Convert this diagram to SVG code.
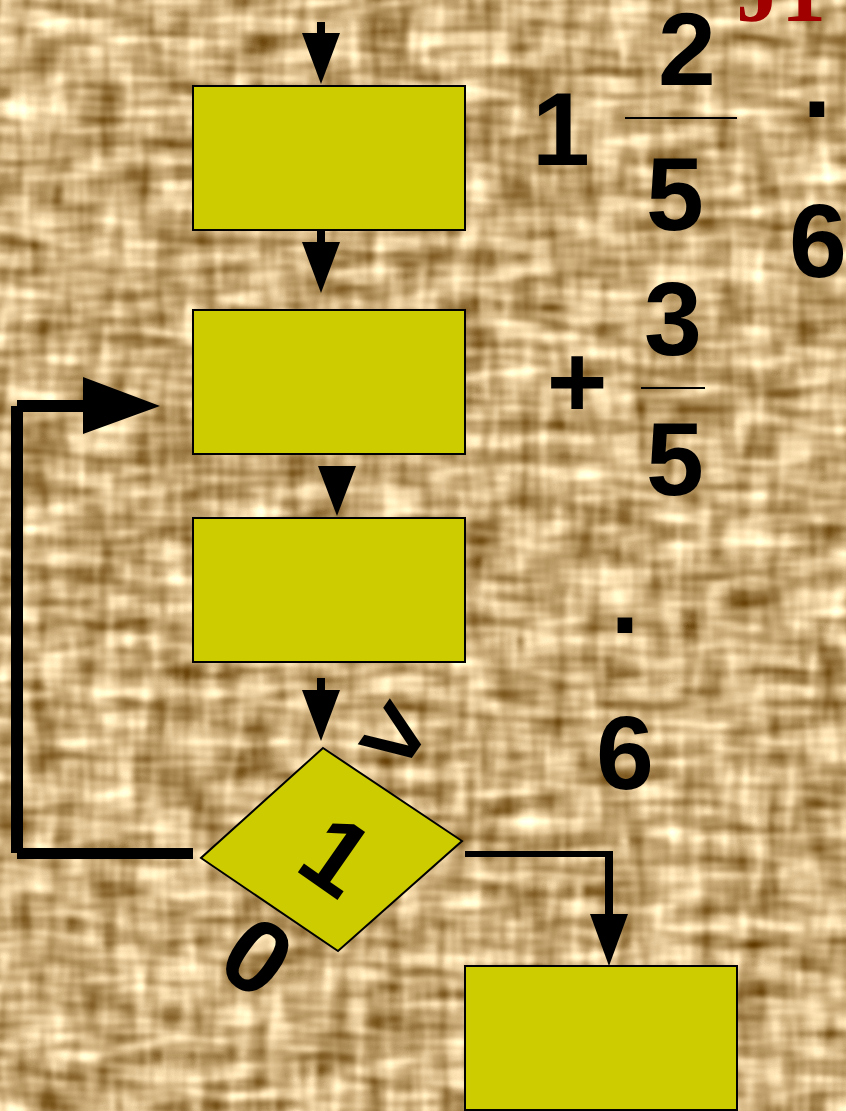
<svg xmlns="http://www.w3.org/2000/svg" width="846" height="1111" viewBox="0 0 846 1111">
<defs>
<filter id="burlap" x="0" y="0" width="846" height="1111" filterUnits="userSpaceOnUse" color-interpolation-filters="sRGB">
<feTurbulence type="fractalNoise" baseFrequency="0.014 0.06" numOctaves="2" seed="3" result="h"/>
<feTurbulence type="fractalNoise" baseFrequency="0.06 0.014" numOctaves="2" seed="11" result="v"/>
<feComposite in="h" in2="v" operator="arithmetic" k1="0" k2="0.6" k3="0.4" k4="0" result="m"/>
<feColorMatrix in="m" type="matrix" values="1.3 0 0 0 0.15  1.4 0 0 0 -0.02  1.5 0 0 0 -0.27  0 0 0 0 1"/>
</filter>
<style>
.box{fill:#cccc00;stroke:#000;stroke-width:2}
.num{font-family:"Liberation Sans",Arial,sans-serif;font-weight:bold;font-size:104px;fill:#000;text-anchor:middle}
.ln{stroke:#000;fill:none;stroke-linecap:butt}
.head{fill:#000}
</style>
</defs>
<rect width="846" height="1111" fill="#c9a878"/>
<rect width="846" height="1111" filter="url(#burlap)"/>

<g id="connectors">
<line class="ln" x1="321" y1="22" x2="321" y2="34" stroke-width="8"/>
<polygon class="head" points="302,33 340,33 321,84"/>
<line class="ln" x1="321" y1="230" x2="321" y2="243" stroke-width="8"/>
<polygon class="head" points="302,242 340,242 321,293"/>
<polygon class="head" points="318,466 356,466 337,516"/>
<line class="ln" x1="321" y1="678" x2="321" y2="691" stroke-width="8"/>
<polygon class="head" points="302,690 340,690 321,741"/>
<line class="ln" x1="465" y1="854" x2="613" y2="854" stroke-width="6"/>
<line class="ln" x1="609" y1="854" x2="609" y2="915" stroke-width="8"/>
<polygon class="head" points="590,914 628,914 609,966"/>
<line class="ln" x1="193" y1="853.5" x2="17" y2="853.5" stroke-width="11"/>
<line class="ln" x1="17" y1="853" x2="17" y2="406" stroke-width="12"/>
<line class="ln" x1="17" y1="406" x2="85" y2="406" stroke-width="12"/>
<polygon class="head" points="83,377 83,434 160,406"/>
</g>

<g id="box1"><rect class="box" x="193" y="86" width="272" height="144"/></g>
<g id="box2"><rect class="box" x="193" y="310" width="272" height="144"/></g>
<g id="box3"><rect class="box" x="193" y="518" width="272" height="144"/></g>
<g id="decision">
<polygon class="box" points="323,748 462,841 338,951 201,858"/>
<text class="num" transform="translate(335,853) rotate(35)" x="3" y="37">1</text>
</g>
<g id="box4"><rect class="box" x="465" y="966" width="272" height="144"/></g>

<g id="labels">
<text class="num" transform="translate(396,735) rotate(35)" x="0" y="36">&gt;</text>
<text class="num" transform="translate(258,956) rotate(35)" x="0" y="37">0</text>
</g>

<g id="formula">
<text class="num" x="561" y="165">1</text>
<text class="num" x="687" y="85">2</text>
<line x1="625" y1="118" x2="737" y2="118" stroke="#000" stroke-width="2"/>
<text class="num" x="675" y="230">5</text>
<text class="num" x="817" y="117">.</text>
<text class="num" x="818" y="277">6</text>
<text class="num" x="577" y="417">+</text>
<text class="num" x="673" y="355">3</text>
<line x1="641" y1="388" x2="705" y2="388" stroke="#000" stroke-width="2"/>
<text class="num" x="675" y="495">5</text>
<text class="num" x="625" y="633">.</text>
<text class="num" x="625" y="789">6</text>
<text x="736" y="21" font-family="'Liberation Serif','Times New Roman',serif" font-weight="bold" font-size="90" fill="#a00000">J1</text>
</g>
</svg>
